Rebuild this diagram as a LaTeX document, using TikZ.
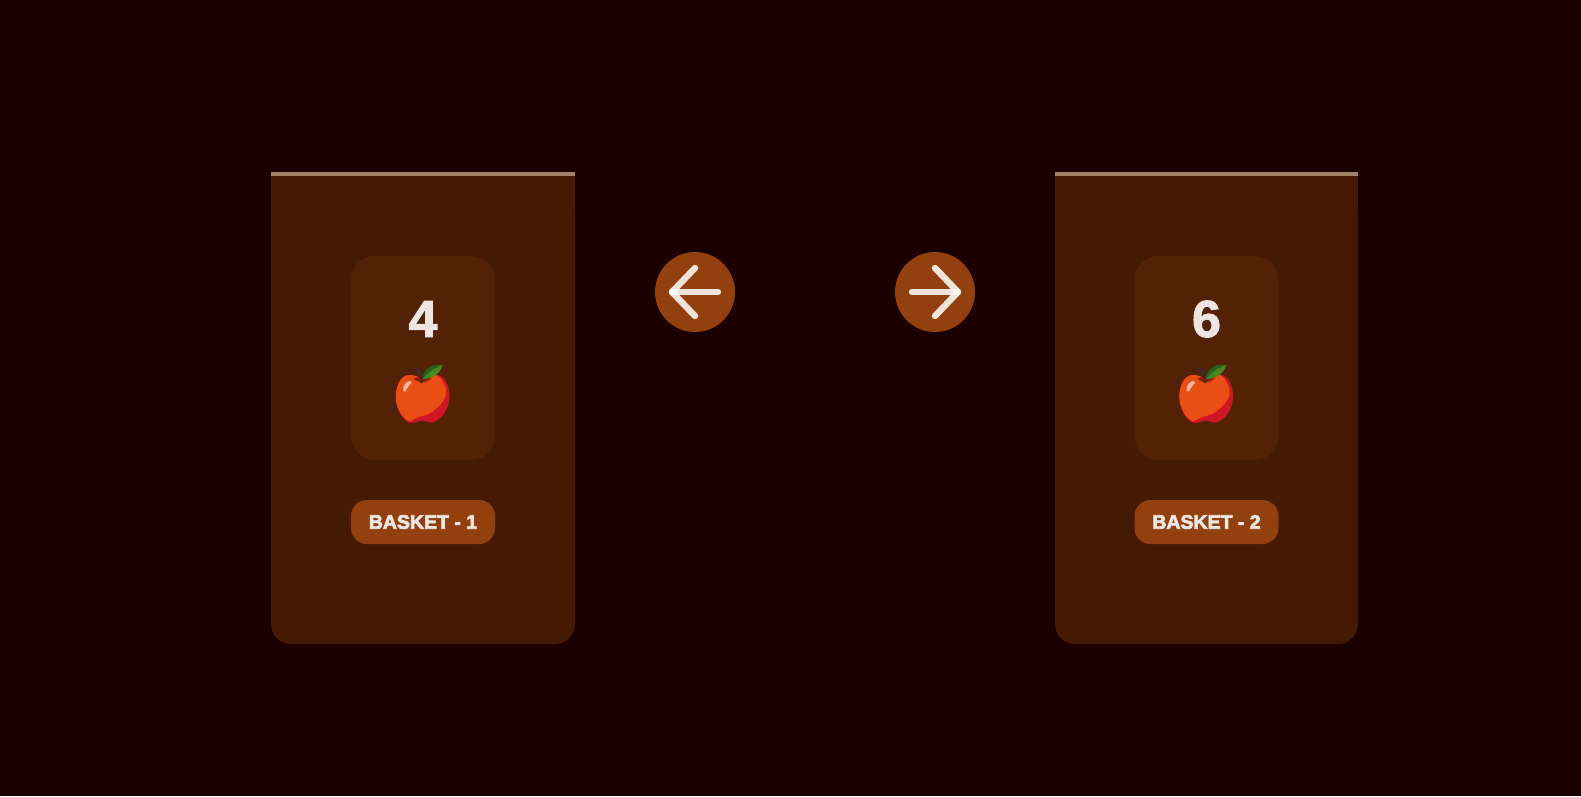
\documentclass[tikz,border=0pt]{standalone}
\usepackage{fontspec}
\setmainfont{Liberation Sans}
\newcommand{\heavytext}[2]{\special{pdf:code #1 w 2 Tr}#2\special{pdf:code 0 Tr 1 w}}
\definecolor{bgc}{RGB}{28,0,0}
\definecolor{cardc}{RGB}{69,26,3}
\definecolor{innerc}{RGB}{82,33,6}
\definecolor{pillc}{RGB}{146,64,14}
\definecolor{stripc}{RGB}{160,130,100}
\definecolor{textc}{RGB}{236,229,225}
\definecolor{appleor}{RGB}{233,78,20}
\definecolor{applered}{RGB}{208,21,37}
\definecolor{leafc}{RGB}{72,135,32}
\definecolor{leafd}{RGB}{40,95,30}
\definecolor{stemc}{RGB}{62,44,44}
\definecolor{dipc}{RGB}{150,25,5}
\tikzset{
  innerbox/.style={fill=innerc,rounded corners=24pt,minimum width=144pt,minimum height=204pt,inner sep=0pt,anchor=center},
  pillbox/.style={fill=pillc,rounded corners=16pt,minimum width=144pt,minimum height=44pt,inner sep=0pt,text=textc,font=\bfseries\fontsize{19.5}{20}\selectfont},
  countlabel/.style={text=textc,inner sep=0pt,font=\bfseries\fontsize{52}{52}\selectfont},
  roundbtn/.style={circle,fill=pillc,minimum size=80pt,inner sep=0pt},
  arrowline/.style={draw=white,draw opacity=.86,line width=6.4pt,line cap=round,line join=round},
  apple/.pic={
    \fill[applered] (0,-21.5) .. controls (5,-24) and (10,-25) .. (14,-25)
      .. controls (23,-25) and (27,-13) .. (27,-3.3)
      .. controls (27,9) and (18,22.5) .. (7.7,22.5)
      .. controls (4,22.5) and (2,20.5) .. (-0.7,20.5)
      .. controls (-3,20.5) and (-6,23) .. (-10.7,23)
      .. controls (-19,23) and (-26.7,9) .. (-26.7,-3.3)
      .. controls (-26.7,-14) and (-22,-25) .. (-13,-25)
      .. controls (-8,-25) and (-4,-23) .. (0,-21.5) -- cycle;
    \fill[appleor] (0,-21.5) .. controls (5,-24) and (10,-25) .. (14,-25)
      .. controls (20,-22) and (24,-13) .. (23.7,-6.7)
      .. controls (23,1) and (12,13) .. (1,15.7)
      .. controls (-4,17) and (-8,18.5) .. (-12.5,21.5)
      .. controls (-20,19) and (-26.7,8) .. (-26.7,-3.3)
      .. controls (-26.7,-14) and (-22,-25) .. (-13,-25)
      .. controls (-8,-25) and (-4,-23) .. (0,-21.5) -- cycle;
    \fill[dipc] (-9,-21.5) .. controls (-5,-16.5) and (5,-16.5) .. (9,-22)
      .. controls (4,-24) and (-4,-24) .. (-9,-21.5) -- cycle;
    \draw[stemc,line width=3pt,line cap=round] (-1,-18) .. controls (-1,-24) and (-2,-29) .. (-7,-31.5);
    \fill[leafc] (0,-21) .. controls (1,-31) and (10,-36.5) .. (20,-35)
      .. controls (18,-26) and (9,-21) .. (0,-21) -- cycle;
    \fill[leafd] (0,-21) .. controls (5,-27) and (11,-32) .. (20,-35)
      .. controls (10,-36.5) and (1,-31) .. (0,-21) -- cycle;
    \fill[white,opacity=.6] (-19.5,-10) .. controls (-19.5,-15) and (-16,-19) .. (-12,-19)
      .. controls (-10,-18.5) and (-11,-16) .. (-13,-15)
      .. controls (-15,-13) and (-16,-10) .. (-17,-8.5)
      .. controls (-18,-8) and (-19.5,-9) .. (-19.5,-10) -- cycle;
  }
}
\begin{document}
\begin{tikzpicture}[x=1pt,y=-1pt]
\useasboundingbox (0,0) rectangle (1581,796);
\fill[bgc] (0,0) rectangle (1581,796);
% cards
\fill[cardc,rounded corners=20pt] (271,190) rectangle (575,644);
\fill[cardc] (271,172) rectangle (575,210);
\fill[stripc] (271,172) rectangle (575,176);
\fill[cardc,rounded corners=20pt] (1055,190) rectangle (1358,644);
\fill[cardc] (1055,172) rectangle (1358,210);
\fill[stripc] (1055,172) rectangle (1358,176);
% inner panels
\node[innerbox] (innerA) at (423,358) {};
\node[innerbox] (innerB) at (1206.5,358) {};
\node[countlabel] (countA) at (423,319) {\heavytext{1.0}{4}};
\node[countlabel] (countB) at (1206.5,319) {\heavytext{1.0}{6}};
\pic at (422.5,400) {apple};
\pic at (1206,400) {apple};
\node[pillbox] (pillA) at (423,522) {\heavytext{0.7}{BASKET - 1}};
\node[pillbox] (pillB) at (1206.5,522) {\heavytext{0.7}{BASKET - 2}};
% buttons
\node[roundbtn] (btnL) at (695,292) {};
\node[roundbtn] (btnR) at (935,292) {};
\coordinate (lt) at (672,292); \coordinate (le) at (718,292);
\coordinate (lu) at (695,268); \coordinate (ld) at (695,316);
\coordinate (rt) at (958,292); \coordinate (re) at (912,292);
\coordinate (ru) at (935,268); \coordinate (rd) at (935,316);
\draw[arrowline] (le) -- (lt);
\draw[arrowline] (lu) -- (lt) -- (ld);
\draw[arrowline] (re) -- (rt);
\draw[arrowline] (ru) -- (rt) -- (rd);
\end{tikzpicture}
\end{document}
